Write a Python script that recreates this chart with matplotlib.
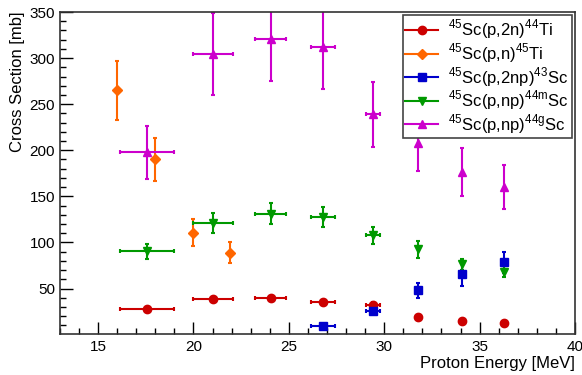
import matplotlib
matplotlib.use("Agg")
import matplotlib.pyplot as plt
from matplotlib.lines import Line2D
from matplotlib.ticker import MultipleLocator

plt.rcParams['font.family'] = ['Liberation Sans', 'DejaVu Sans']
plt.rcParams['mathtext.fontset'] = 'custom'
plt.rcParams['mathtext.rm'] = 'Liberation Sans'

# energies (MeV) and cross sections (mb)
x_main = [17.57, 21.03, 24.04, 26.8, 29.39, 31.79, 34.07, 36.27]
xerr_main = [1.4, 1.04, 0.82, 0.64, 0.37, 0, 0, 0]

ti44_y = [28.0, 38.7, 39.8, 35.1, 32.2, 19.1, 14.8, 13.0]
ti44_yerr = [2, 2.5, 2.5, 2.5, 3, 2, 1.5, 1.5]

ti45_x = [15.97, 17.97, 19.95, 21.93]
ti45_y = [265, 190, 110.5, 88.7]
ti45_yerr = [32, 23.5, 14.5, 11.5]

sc43_x = [26.8, 29.39, 31.79, 34.07, 36.27]
sc43_xerr = [0.64, 0.37, 0, 0, 0]
sc43_y = [9.8, 26.1, 48.2, 65.2, 78.3]
sc43_yerr = [1.5, 3, 8, 13, 11.7]

sc44m_y = [90.5, 121.3, 131.1, 127.2, 107.6, 92.4, 76.1, 68.0]
sc44m_yerr = [8, 10.7, 11.4, 11, 9.5, 9, 6, 6]

sc44g_y = [197.8, 304.7, 321.0, 311.5, 239.0, 208.3, 176.7, 160.4]
sc44g_yerr = [29, 44.6, 46.4, 45, 35.5, 30.5, 26, 24]

labels = [r'$^{45}$Sc(p,2n)$^{44}$Ti', r'$^{45}$Sc(p,n)$^{45}$Ti',
          r'$^{45}$Sc(p,2np)$^{43}$Sc', r'$^{45}$Sc(p,np)$^{44\mathrm{m}}$Sc',
          r'$^{45}$Sc(p,np)$^{44\mathrm{g}}$Sc']
colors = ['#cc0000', '#ff6600', '#0000cc', '#009900', '#cc00cc']
markers = ['o', 'D', 's', 'v', '^']
msizes = [6, 5.5, 6, 6, 6]

fig = plt.figure(figsize=(5.82, 3.75), dpi=100)
ax = fig.add_axes([0.103, 0.109, 0.885, 0.859])

common = dict(linestyle='none', elinewidth=1.5, capsize=1.5, capthick=1.5)
ax.errorbar(x_main, ti44_y, xerr=xerr_main, yerr=ti44_yerr, fmt=markers[0], color=colors[0],
            markersize=msizes[0], **common)
ax.errorbar(ti45_x, ti45_y, yerr=ti45_yerr, fmt=markers[1], color=colors[1],
            markersize=msizes[1], **common)
ax.errorbar(sc43_x, sc43_y, xerr=sc43_xerr, yerr=sc43_yerr, fmt=markers[2], color=colors[2],
            markersize=msizes[2], **common)
ax.errorbar(x_main, sc44m_y, xerr=xerr_main, yerr=sc44m_yerr, fmt=markers[3], color=colors[3],
            markersize=msizes[3], **common)
ax.errorbar(x_main, sc44g_y, xerr=xerr_main, yerr=sc44g_yerr, fmt=markers[4], color=colors[4],
            markersize=msizes[4], **common)

ax.set_xlim(13, 40)
ax.set_ylim(0.5, 350)
ax.set_yticks([50, 100, 150, 200, 250, 300, 350])
ax.xaxis.set_major_locator(MultipleLocator(5))
ax.xaxis.set_minor_locator(MultipleLocator(1))
ax.yaxis.set_minor_locator(MultipleLocator(10))
ax.tick_params(which='both', direction='in', top=False, right=False, labelsize=11)
ax.tick_params(which='major', length=9, width=1)
ax.tick_params(which='minor', length=4.5, width=1)
ax.tick_params(axis='x', pad=4)

for s in ax.spines.values():
    s.set_color('#333333')
    s.set_linewidth(1.2)

ax.set_xlabel('Proton Energy [MeV]', fontsize=12, loc='right', labelpad=2)
ax.set_ylabel('Cross Section [mb]', fontsize=12, loc='top', labelpad=3)

handles = [Line2D([], [], color=c, marker=m, markersize=ms, linewidth=1.5)
           for c, m, ms in zip(colors, markers, msizes)]
leg = ax.legend(handles, labels, loc='upper right', fontsize=12, frameon=True, fancybox=False,
                borderaxespad=0.2, handlelength=2.0, labelspacing=0.0,
                borderpad=0.15, handletextpad=0.6)
leg.get_frame().set_edgecolor('#444444')
leg.get_frame().set_linewidth(1.2)
leg.get_frame().set_alpha(1)

fig.savefig('out.png', dpi=100)
